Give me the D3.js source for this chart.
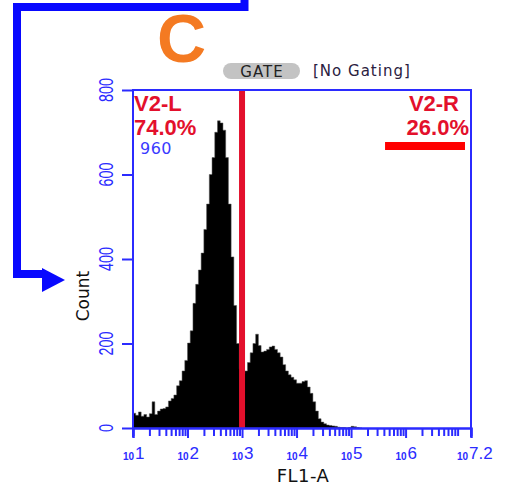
<!DOCTYPE html>
<html>
<head>
<meta charset="utf-8">
<script src="https://cdn.jsdelivr.net/npm/d3@7/dist/d3.min.js"></script>
<style>
  html, body { margin: 0; padding: 0; background: #ffffff; }
  svg { display: block; }
</style>
</head>
<body>
<svg id="chart" width="506" height="489"></svg>
<script>
// FL1-A histogram: counts per channel, channels spaced 0.05 decade apart starting at 10^1
const channelStartDecade = 1.0;
const channelStep = 0.05;
const counts = [
  35, 30, 38, 28, 32, 26, 34, 62, 32, 40,
  45, 46, 50, 64, 70, 78, 100, 112, 135, 160,
  201, 230, 295, 340, 374, 414, 470, 530, 600, 640,
  700, 727, 722, 705, 640, 530, 405, 290, 200, 140,
  128, 135, 155, 178, 200, 222, 195, 180, 182, 186,
  192, 194, 186, 178, 168, 150, 135, 126, 120, 114,
  106, 106, 110, 112, 97, 82, 62, 40, 22, 14,
  10, 7, 6, 5, 4, 2, 1, 1, 0, 1,
  4, 3, 1, 0
];

// axes
const xDomain = [10, Math.pow(10, 7.2)];
const yDomain = [0, 800];
const yTicks = [0, 200, 400, 600, 800];
const xMajorExponents = ["1", "2", "3", "4", "5", "6", "7.2"];
const xMajorValues = [1e1, 1e2, 1e3, 1e4, 1e5, 1e6, Math.pow(10, 7.2)];

// gates
const gateThreshold = 1000;              // V2-L / V2-R divider
const rightMarkerRange = [4.2e5, 1.23e7]; // V2-R region bar
const gateLabels = [
  { name: "V2-L", pct: "74.0%", side: "left" },
  { name: "V2-R", pct: "26.0%", side: "right" }
];
const eventCount = "960";
const panelLetter = "C";
const gateTitle = "GATE";
const gateState = "[No Gating]";
const xTitle = "FL1-A";
const yTitle = "Count";

const svg = d3.select("#chart");
const plotLeft = 133, plotRight = 471, plotTop = 90, plotBottom = 428;
const axisBlue = "#2b2bff";
const gateRed = "#e3102c";

const x = d3.scaleLog().domain(xDomain).range([plotLeft, plotRight]);
const y = d3.scaleLinear().domain(yDomain).range([plotBottom, plotTop]);

// connector arrow
svg.append("path")
  .attr("d", "M244.5,0 V7 H17 V274 H46")
  .attr("fill", "none")
  .attr("stroke", "#0808ff")
  .attr("stroke-width", 8)
  .attr("stroke-linejoin", "miter");
svg.append("path")
  .attr("d", "M42,268 L65,280 L42,292 Z")
  .attr("fill", "#0808ff");

// panel letter
svg.append("text")
  .attr("x", 157).attr("y", 62)
  .attr("font-family", "Liberation Sans, Arial, sans-serif")
  .attr("font-weight", "bold")
  .attr("font-size", 68)
  .attr("fill", "#f47a22")
  .text(panelLetter);

// gate header
svg.append("rect")
  .attr("x", 223).attr("y", 63).attr("width", 77).attr("height", 16)
  .attr("rx", 8).attr("ry", 8)
  .attr("fill", "#c3c3c3");
svg.append("text")
  .attr("x", 262).attr("y", 77)
  .attr("text-anchor", "middle")
  .attr("font-family", "DejaVu Sans, sans-serif")
  .attr("font-size", 15)
  .attr("letter-spacing", 1)
  .attr("fill", "#222")
  .text(gateTitle);
svg.append("text")
  .attr("x", 313).attr("y", 76)
  .attr("font-family", "DejaVu Sans, sans-serif")
  .attr("font-size", 15)
  .attr("letter-spacing", 1)
  .attr("fill", "#2a2040")
  .text(gateState);

// histogram
const pts = counts.map((c, i) => [Math.pow(10, channelStartDecade + i * channelStep), c]);
pts.push([Math.pow(10, channelStartDecade + counts.length * channelStep), counts[counts.length - 1]]);
const area = d3.area()
  .x(d => x(d[0]))
  .y0(y(0))
  .y1(d => y(d[1]))
  .curve(d3.curveStepAfter);
svg.append("path")
  .datum(pts)
  .attr("d", area)
  .attr("fill", "#000")
  .attr("stroke", "#555")
  .attr("stroke-width", 0.5);

// gate divider
svg.append("line")
  .attr("x1", x(gateThreshold)).attr("x2", x(gateThreshold))
  .attr("y1", y(yDomain[1])).attr("y2", y(0))
  .attr("stroke", gateRed)
  .attr("stroke-width", 6);

// right region bar
svg.append("line")
  .attr("x1", x(rightMarkerRange[0])).attr("x2", x(rightMarkerRange[1]))
  .attr("y1", 146).attr("y2", 146)
  .attr("stroke", "#ff0000")
  .attr("stroke-width", 8);

// frame
const frame = svg.append("g").attr("stroke", axisBlue).attr("stroke-width", 2).attr("fill", "none");
frame.append("path").attr("d", `M${plotLeft},${plotBottom + 9} V${plotTop} H${plotRight} V${plotBottom + 9}`);

// x axis with minor decade ticks
const minorVals = [];
for (let e = 1; e <= 7; e++) {
  for (let m = 2; m <= 9; m++) {
    const v = m * Math.pow(10, e);
    if (v < xDomain[1]) minorVals.push(v);
  }
}
const xAxisMinor = d3.axisBottom(x).tickValues(minorVals).tickSize(8).tickFormat("");
const gxm = svg.append("g").attr("transform", `translate(0,${plotBottom})`).call(xAxisMinor);
const xAxisMajor = d3.axisBottom(x).tickValues(xMajorValues).tickSize(10).tickFormat("");
const gxM = svg.append("g").attr("transform", `translate(0,${plotBottom})`).call(xAxisMajor);
[gxm, gxM].forEach(g => {
  g.select(".domain").attr("stroke", axisBlue).attr("stroke-width", 2);
  g.selectAll(".tick line").attr("stroke", axisBlue).attr("stroke-width", 2);
});

// x tick labels: small "10" plus larger exponent
xMajorValues.forEach((v, i) => {
  const shift = i === xMajorValues.length - 1 ? -4 : 0;
  const px = x(v) + shift;
  svg.append("text")
    .attr("x", px + 1).attr("y", 460)
    .attr("text-anchor", "end")
    .attr("fill", axisBlue)
    .attr("font-family", "Liberation Sans, Arial, sans-serif")
    .attr("font-size", 10).attr("font-weight", "bold")
    .text("10");
  svg.append("text")
    .attr("x", px + 2).attr("y", 459)
    .attr("fill", axisBlue)
    .attr("font-family", "Liberation Sans, Arial, sans-serif")
    .attr("font-size", 17)
    .text(xMajorExponents[i]);
});

// y axis
const yAxis = d3.axisLeft(y).tickValues(yTicks).tickSize(11).tickFormat("");
const gy = svg.append("g").attr("transform", `translate(${plotLeft},0)`).call(yAxis);
gy.select(".domain").remove();
gy.selectAll(".tick line").attr("stroke", axisBlue).attr("stroke-width", 2);

yTicks.forEach(v => {
  svg.append("text")
    .attr("transform", `translate(113,${y(v)}) rotate(-90) scale(0.72,1)`)
    .attr("text-anchor", "middle")
    .attr("font-family", "Liberation Sans, Arial, sans-serif")
    .attr("font-size", 20)
    .attr("fill", axisBlue)
    .text(d3.format("d")(v));
});

// axis titles
svg.append("text")
  .attr("transform", "translate(89,296) rotate(-90)")
  .attr("text-anchor", "middle")
  .attr("font-family", "DejaVu Sans, sans-serif")
  .attr("font-size", 17)
  .attr("fill", "#111")
  .text(yTitle);
svg.append("text")
  .attr("x", 303).attr("y", 482)
  .attr("text-anchor", "middle")
  .attr("font-family", "DejaVu Sans, sans-serif")
  .attr("font-size", 18)
  .attr("letter-spacing", 0.5)
  .attr("fill", "#111")
  .text(xTitle);

// gate statistics: name and percentage on separate lines
gateLabels.forEach(g => {
  const isLeft = g.side === "left";
  const common = t => t
    .attr("font-family", "Liberation Sans, Arial, sans-serif")
    .attr("font-weight", "bold")
    .attr("font-size", 22)
    .attr("fill", gateRed)
    .attr("text-anchor", isLeft ? "start" : "end");
  svg.append("text").call(common)
    .attr("x", isLeft ? 134 : 459).attr("y", 111).text(g.name);
  svg.append("text").call(common)
    .attr("x", isLeft ? 134 : 469).attr("y", 135).text(g.pct);
});
svg.append("text")
  .attr("x", 140).attr("y", 154)
  .attr("font-family", "DejaVu Sans, sans-serif")
  .attr("font-size", 16)
  .attr("letter-spacing", 0.5)
  .attr("fill", "#3a3aff")
  .text(eventCount);
</script>
</body>
</html>
